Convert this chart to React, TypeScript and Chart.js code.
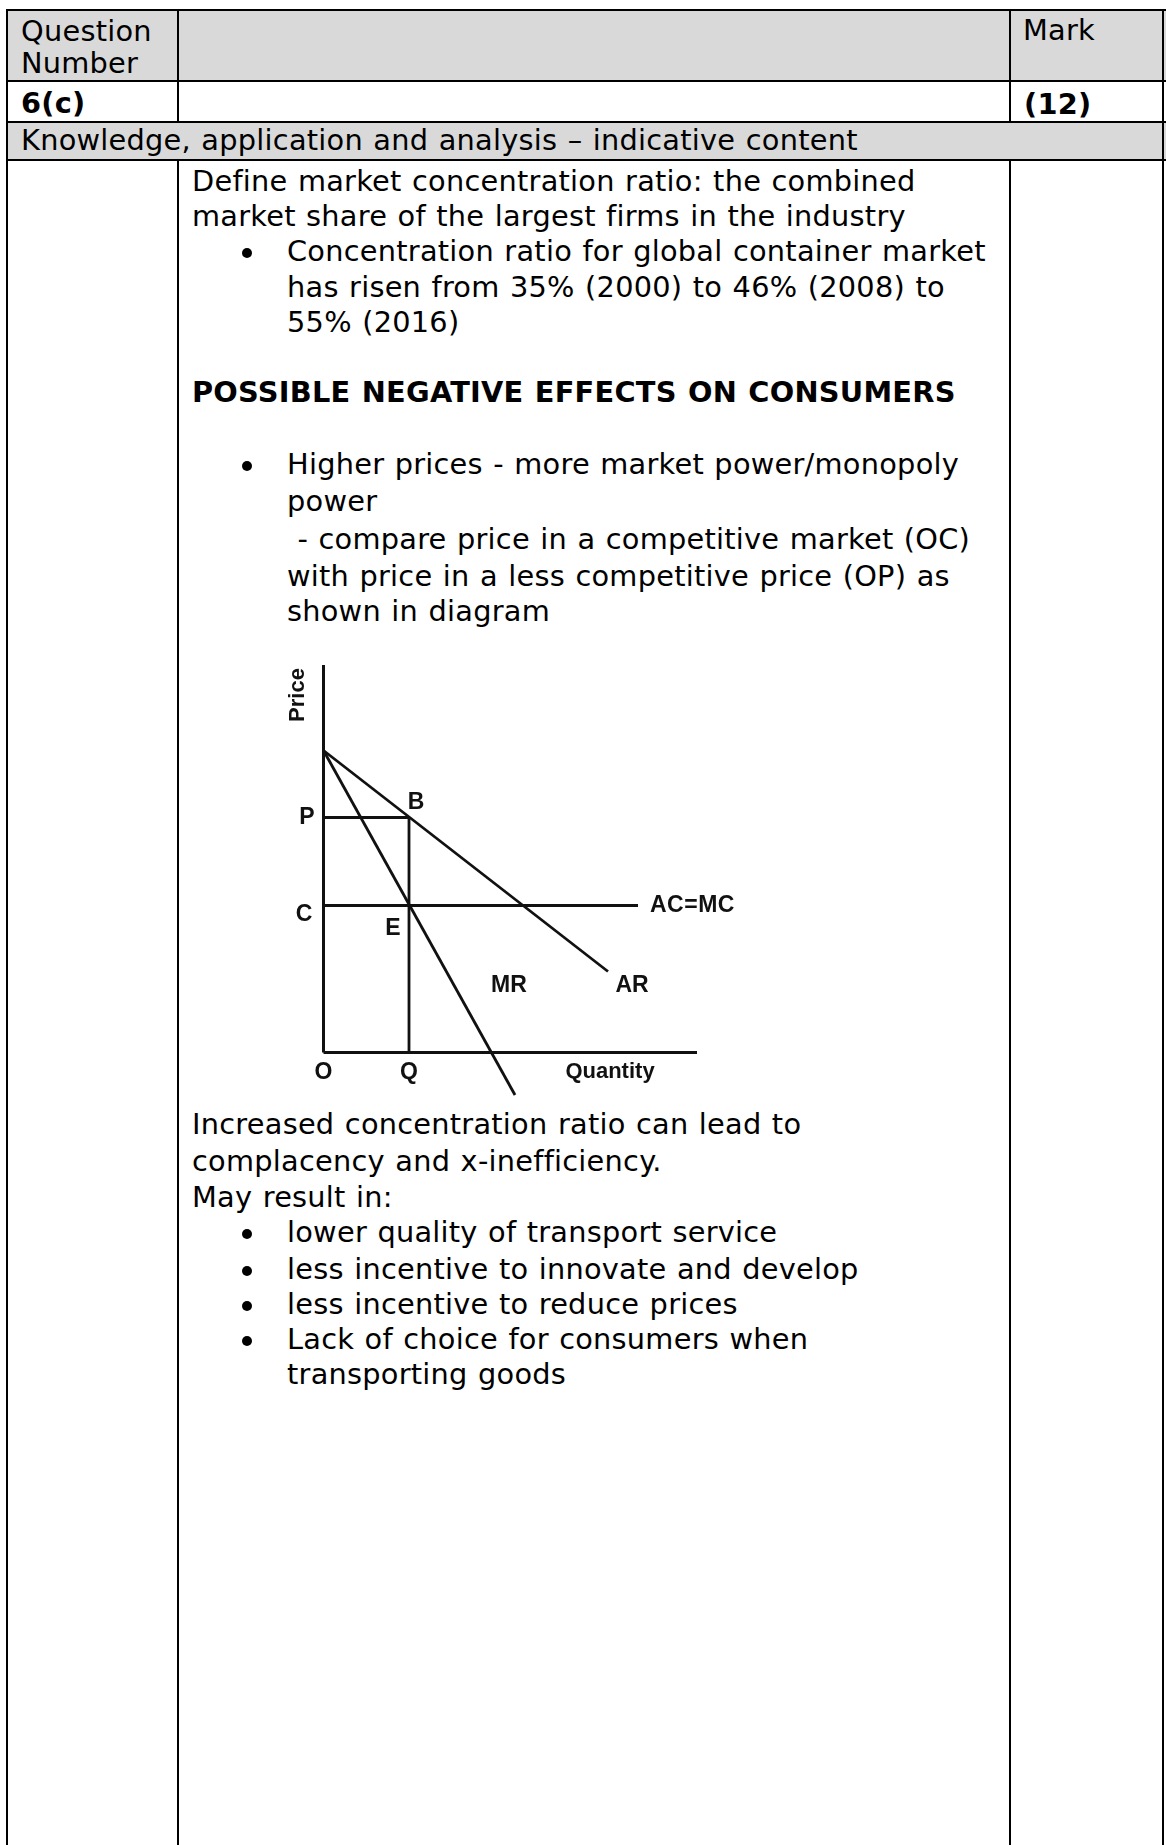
import React, { useEffect, useRef } from "react";
import { Chart, registerables } from "chart.js";

Chart.register(...registerables);

// ---- Diagram values (quantity on x, price on y, in diagram units) ----
const priceIntercept = 30.2;
const priceP = 23.5;
const priceC = 14.7;
const quantityQ = 8.55;
const arEnd = [28.45, 8.1];
const mrEnd = [19.15, -4.25];
const acmcEndQ = 31.45;
const priceAxisTop = 38.75;
const quantityAxisEnd = 37.35;

const curveLabels = ["AR", "MR", "AC=MC"];
const pointLabels = ["P", "B", "C", "E", "O", "Q"];
const axisTitles = ["Price", "Quantity"];

// ---- Page text ----
type Line = { t: string; y: number; x?: number; bold?: boolean; bullet?: boolean };

const TEXT_X = 192;
const BULLET_X = 287;

const mainLines: Line[] = [
  { t: "Define market concentration ratio: the combined", y: 182 },
  { t: "market share of the largest firms in the industry", y: 217 },
  { t: "Concentration ratio for global container market", y: 252, x: BULLET_X, bullet: true },
  { t: "has risen from 35% (2000) to 46% (2008) to", y: 288, x: BULLET_X },
  { t: "55% (2016)", y: 323, x: BULLET_X },
  { t: "POSSIBLE NEGATIVE EFFECTS ON CONSUMERS", y: 393, bold: true },
  { t: "Higher prices - more market power/monopoly", y: 465, x: BULLET_X, bullet: true },
  { t: "power", y: 502, x: BULLET_X },
  { t: " - compare price in a competitive market (OC)", y: 540, x: BULLET_X },
  { t: "with price in a less competitive price (OP) as", y: 577, x: BULLET_X },
  { t: "shown in diagram", y: 612, x: BULLET_X },
  { t: "Increased concentration ratio can lead to", y: 1125 },
  { t: "complacency and x-inefficiency.", y: 1162 },
  { t: "May result in:", y: 1198 },
  { t: "lower quality of transport service", y: 1233, x: BULLET_X, bullet: true },
  { t: "less incentive to innovate and develop", y: 1270, x: BULLET_X, bullet: true },
  { t: "less incentive to reduce prices", y: 1305, x: BULLET_X, bullet: true },
  { t: "Lack of choice for consumers when", y: 1340, x: BULLET_X, bullet: true },
  { t: "transporting goods", y: 1375, x: BULLET_X },
];

const headerLines: Line[] = [
  { t: "Question", y: 32, x: 21 },
  { t: "Number", y: 64, x: 21 },
  { t: "Mark", y: 31, x: 1023 },
  { t: "6(c)", y: 104, x: 21, bold: true },
  { t: "(12)", y: 105, x: 1024, bold: true },
  { t: "Knowledge, application and analysis \u2013 indicative content", y: 141, x: 21 },
];

const FONT = '"DejaVu Sans", Verdana, sans-serif';
const FS = 28.8;
const LH = 36;

function TextLine({ l }: { l: Line }) {
  const x = l.x ?? TEXT_X;
  return (
    <>
      {l.bullet && (
        <div
          style={{
            position: "absolute",
            left: 242,
            top: l.y - 4,
            width: 10,
            height: 10,
            borderRadius: 5,
            background: "#000",
          }}
        />
      )}
      <div
        style={{
          position: "absolute",
          left: x,
          top: l.y - LH / 2 - 1,
          height: LH,
          lineHeight: `${LH}px`,
          fontFamily: FONT,
          fontSize: FS,
          fontWeight: l.bold ? "bold" : "normal",
          letterSpacing: "0.25px",
          wordSpacing: "1px",
          whiteSpace: "pre",
          color: "#000",
        }}
      >
        {l.t}
      </div>
    </>
  );
}

const labelPlugin = {
  id: "econLabels",
  afterDatasetsDraw(chart: any) {
    const ctx = chart.ctx;
    const xs = chart.scales.x;
    const ys = chart.scales.y;
    const px = (v: number) => xs.getPixelForValue(v);
    const py = (v: number) => ys.getPixelForValue(v);
    ctx.save();
    ctx.fillStyle = "#111";
    ctx.textAlign = "center";
    ctx.textBaseline = "middle";
    ctx.font = 'bold 23px "Liberation Sans", Arial, sans-serif';
    const [lP, lB, lC, lE, lO, lQ] = pointLabels;
    ctx.fillText(lP, px(0) - 16.5, py(priceP));
    ctx.fillText(lB, px(quantityQ) + 7, py(priceP) - 14.5);
    ctx.fillText(lC, px(0) - 19.5, py(priceC) + 9);
    ctx.fillText(lE, px(quantityQ) - 16, py(priceC) + 23);
    ctx.fillText(lO, px(0), py(0) + 20);
    ctx.fillText(lQ, px(quantityQ), py(0) + 20);
    const arLabelY = py(arEnd[1]) + 14;
    ctx.fillText(curveLabels[0], px(arEnd[0]) + 24, arLabelY);
    ctx.fillText(curveLabels[1], px(mrEnd[0]) - 6, arLabelY);
    ctx.font = 'bold 22px "Liberation Sans", Arial, sans-serif';
    ctx.fillText(axisTitles[1], px(quantityAxisEnd) - 87, py(0) + 19);
    ctx.textAlign = "left";
    ctx.font = 'bold 23px "Liberation Sans", Arial, sans-serif';
    (ctx as any).letterSpacing = "0.5px";
    ctx.fillText(curveLabels[2], px(acmcEndQ) + 12, py(priceC));
    (ctx as any).letterSpacing = "0px";
    ctx.translate(px(0) - 25.5, py(priceAxisTop) + 30);
    ctx.rotate(-Math.PI / 2);
    ctx.textAlign = "center";
    ctx.font = 'bold 22px "Liberation Sans", Arial, sans-serif';
    ctx.fillText(axisTitles[0], 0, 0);
    ctx.restore();
  },
};

function Diagram() {
  const ref = useRef<HTMLCanvasElement>(null);
  useEffect(() => {
    if (!ref.current) return;
    const seg = (a: [number, number], b: [number, number], w: number) => ({
      data: [
        { x: a[0], y: a[1] },
        { x: b[0], y: b[1] },
      ],
      showLine: true,
      borderColor: "#111",
      backgroundColor: "#111",
      borderWidth: w,
      pointRadius: 0,
      fill: false,
    });
    const chart = new Chart(ref.current, {
      type: "scatter",
      data: {
        datasets: [
          seg([0, 0], [0, priceAxisTop], 3),
          seg([0, 0], [quantityAxisEnd, 0], 3),
          seg([0, priceIntercept], [arEnd[0], arEnd[1]], 2.8),
          seg([0, priceIntercept], [mrEnd[0], mrEnd[1]], 2.8),
          seg([0, priceC], [acmcEndQ, priceC], 2.8),
          seg([0, priceP], [quantityQ, priceP], 2.8),
          seg([quantityQ, 0], [quantityQ, priceP], 2.8),
        ] as any,
      },
      options: {
        animation: false,
        responsive: false,
        maintainAspectRatio: false,
        devicePixelRatio: 1,
        layout: { padding: 0 },
        plugins: { legend: { display: false }, tooltip: { enabled: false } },
        scales: {
          x: { type: "linear", min: -7.35, max: 44.65, display: false },
          y: { type: "linear", min: -5.75, max: 40.25, display: false },
        },
      },
      plugins: [labelPlugin],
    });
    return () => chart.destroy();
  }, []);
  return (
    <canvas
      ref={ref}
      width={520}
      height={460}
      style={{ position: "absolute", left: 250, top: 650, width: 520, height: 460 }}
    />
  );
}

function Rect({ l, t, w, h, c }: { l: number; t: number; w: number; h: number; c: string }) {
  return <div style={{ position: "absolute", left: l, top: t, width: w, height: h, background: c }} />;
}

export default function App() {
  useEffect(() => {
    document.body.style.background = "#fff";
  }, []);
  const B = "#000";
  return (
    <div
      style={{
        position: "absolute",
        left: 0,
        top: 0,
        width: 1166,
        height: 1845,
        overflow: "hidden",
        background: "#fff",
      }}
    >
      {/* shaded rows */}
      <Rect l={7} t={10} w={1160} h={71} c="#d9d9d9" />
      <Rect l={7} t={122} w={1160} h={38} c="#d9d9d9" />
      {/* horizontal borders */}
      <Rect l={6} t={9} w={1160} h={2} c={B} />
      <Rect l={6} t={80} w={1160} h={2} c={B} />
      <Rect l={6} t={121} w={1160} h={2} c={B} />
      <Rect l={6} t={159} w={1160} h={2} c={B} />
      {/* vertical borders */}
      <Rect l={6} t={9} w={2} h={1836} c={B} />
      <Rect l={1162} t={9} w={2} h={1836} c={B} />
      <Rect l={177} t={9} w={2} h={113} c={B} />
      <Rect l={1009} t={9} w={2} h={113} c={B} />
      <Rect l={177} t={159} w={2} h={1686} c={B} />
      <Rect l={1009} t={159} w={2} h={1686} c={B} />
      {headerLines.map((l, i) => (
        <TextLine key={"h" + i} l={l} />
      ))}
      {mainLines.map((l, i) => (
        <TextLine key={"m" + i} l={l} />
      ))}
      <Diagram />
    </div>
  );
}
